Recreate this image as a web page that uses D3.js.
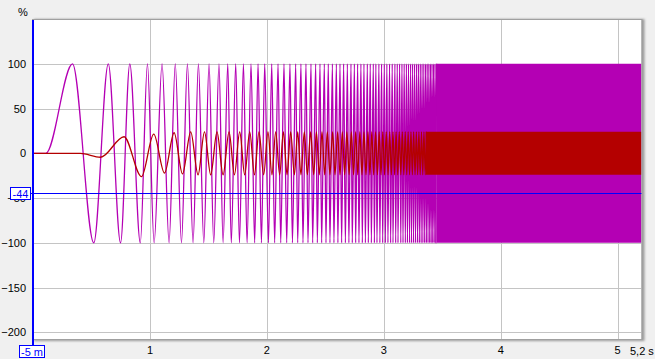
<!DOCTYPE html>
<html>
<head>
<meta charset="utf-8">
<script src="https://cdn.jsdelivr.net/npm/d3@7"></script>
<style>
body{margin:0;background:#f0f0f0;}
svg{display:block;font-family:"Liberation Sans",Arial,sans-serif;font-size:11px;}
</style>
</head>
<body>
<div id="chart"></div>
<script>
// sweep (magenta): times in s of the +100 % peaks and -100 % troughs
var sweepPeaks = [0.333,0.639,0.823,0.974,1.099,1.212,1.316,1.410,1.501,1.586,1.661,1.729,1.795,1.860,1.920,1.977,
    2.037,2.091,2.142,2.193,2.242,2.287,2.330,2.373,2.413,2.450,2.487,2.521,2.556,2.590,2.621,2.652,2.684,2.715,
    2.744,2.772,2.800,2.826,2.855,2.880,2.906,2.928,2.954,2.977,3.000,3.022,3.045,3.068,3.091,3.111,3.131,
    3.151,3.170,3.189,3.207,3.225,3.242,3.259,3.276,3.292,3.308,3.323,3.338,3.353,3.367,3.381,3.395,3.408,
    3.421,3.434,3.447];
var sweepTroughs = [0.515,0.744,0.913,1.031,1.159,1.265,1.364,1.456,1.541,1.621,1.691,1.761,1.826,1.891,1.949,2.009,
    2.062,2.114,2.165,2.214,2.259,2.304,2.347,2.387,2.427,2.464,2.501,2.535,2.569,2.603,2.635,2.667,2.697,2.726,
    2.755,2.783,2.812,2.838,2.863,2.889,2.915,2.937,2.962,2.986,3.009,3.031,3.054,3.074,3.097,3.117,
    3.141,3.160,3.180,3.198,3.216,3.233,3.250,3.267,3.284,3.300,3.315,3.330,3.345,3.360,3.374,3.388,3.401,
    3.414,3.427,3.440];
var sweepStart = 0.105;          // flat at 0 before this
var sweepBand = [3.445, 5.2];    // too dense to resolve: solid band
var sweepLevel = 100;

// response (red): [time, %] of each extremum
var respPeaks = [[0.774,18.5],[1.028,21.5],[1.202,23],[1.344,24],[1.462,24],[1.569,24],[1.672,24],[1.763,24],
    [1.849,24],[1.928,24],[2.005,24],[2.071,24],[2.137,24],[2.199,24],[2.259,24],[2.316,24],[2.370,24],[2.419,24],
    [2.467,24],[2.513,24],[2.558,24],[2.601,24],[2.641,24],[2.680,24],[2.718,24],[2.755,24],[2.791,24],[2.826,24],
    [2.860,24],[2.893,24],[2.925,24],[2.956,24],[2.987,24],[3.017,24],[3.046,24],[3.074,24],[3.101,24],[3.128,24],
    [3.154,24],[3.179,24],[3.204,24],[3.228,24],[3.251,24],[3.274,24],[3.296,24],[3.318,24],[3.339,24],[3.360,24]];
var respTroughs = [[0.573,-4.4],[0.923,-26],[1.120,-22],[1.274,-23],[1.407,-24],[1.515,-24],[1.621,-24],[1.718,-24],
    [1.806,-24],[1.889,-24],[1.968,-24],[2.039,-24],[2.105,-24],[2.168,-24],[2.231,-24],[2.287,-24],[2.342,-24],
    [2.396,-24],[2.444,-24],[2.490,-24],[2.535,-24],[2.578,-24],[2.621,-24],[2.661,-24],[2.699,-24],[2.737,-24],
    [2.773,-24],[2.809,-24],[2.843,-24],[2.877,-24],[2.909,-24],[2.941,-24],[2.972,-24],[3.002,-24],[3.032,-24],
    [3.060,-24],[3.088,-24],[3.115,-24],[3.141,-24],[3.167,-24],[3.192,-24],[3.216,-24],[3.240,-24],[3.263,-24],
    [3.285,-24],[3.307,-24],[3.329,-24],[3.350,-24]];
var respStart = 0.40;
var respBand = [3.355, 5.2];
var respLevel = [-24, 24];

var yTicks = [100, 50, 0, -50, -100, -150, -200];
var xTicks = [1, 2, 3, 4, 5];
var cursorY = -44;

function init(){
    var w = 655, h = 359;
    var x = d3.scaleLinear().domain([-0.005, 5.2]).range([33, 641.5]);
    var y = d3.scaleLinear().domain([-207.5, 149]).range([339, 20]);
    var pl = 33, pr = 641.5, pt = 20, pb = 339;

    var svg = d3.select("#chart").append("svg")
        .attr("width", w).attr("height", h);

    var defs = svg.append("defs");
    defs.append("filter").attr("id","sh").append("feGaussianBlur").attr("stdDeviation",1.2);
    defs.append("clipPath").attr("id","clip").append("rect")
        .attr("x", pl).attr("y", pt).attr("width", pr - pl).attr("height", pb - pt);

    // frame + shadow
    svg.append("rect").attr("x", pl + 1).attr("y", pt - 1).attr("width", pr - pl + 2).attr("height", pb - pt + 3)
        .attr("fill", "#9a9a9a").attr("filter", "url(#sh)");
    svg.append("rect").attr("x", pl).attr("y", pt).attr("width", pr - pl).attr("height", pb - pt)
        .attr("fill", "#fff");

    // grid
    var grid = svg.append("g");
    grid.selectAll(".gy").data(yTicks).enter().append("line")
        .attr("x1", pl).attr("x2", pr).attr("y1", d => Math.round(y(d)) + 0.5).attr("y2", d => Math.round(y(d)) + 0.5)
        .attr("stroke", "#c4c4c4");
    grid.selectAll(".gx").data(xTicks).enter().append("line")
        .attr("y1", pt).attr("y2", pb).attr("x1", d => Math.round(x(d)) + 0.5).attr("x2", d => Math.round(x(d)) + 0.5)
        .attr("stroke", "#c4c4c4");

    var plot = svg.append("g").attr("clip-path", "url(#clip)");

    // sweep line
    var sweepPts = [[-0.005, 0], [sweepStart, 0]]
        .concat(sweepPeaks.map(t => [t, sweepLevel]))
        .concat(sweepTroughs.map(t => [t, -sweepLevel]));
    sweepPts.sort((a, b) => a[0] - b[0]);
    var line = d3.line().x(d => x(d[0])).y(d => y(d[1])).curve(d3.curveMonotoneX);
    plot.append("path").attr("d", line(sweepPts))
        .attr("fill", "none").attr("stroke", "#b400b4").attr("stroke-width", 1.3);
    var band = d3.area().x(d => x(d)).y0(y(-sweepLevel)).y1(y(sweepLevel));
    plot.append("path").attr("d", band(sweepBand)).attr("fill", "#b400b4");

    // response line
    var respPts = [[-0.005, 0], [respStart, 0]].concat(respPeaks).concat(respTroughs);
    respPts.sort((a, b) => a[0] - b[0]);
    plot.append("path").attr("d", line(respPts))
        .attr("fill", "none").attr("stroke", "#b40000").attr("stroke-width", 1.3);
    var rband = d3.area().x(d => x(d)).y0(y(respLevel[0])).y1(y(respLevel[1]));
    plot.append("path").attr("d", rband(respBand)).attr("fill", "#b40000");

    // frame border
    svg.append("rect").attr("x", pl - 0.5).attr("y", pt - 0.5).attr("width", pr - pl + 1).attr("height", pb - pt + 1)
        .attr("fill", "none").attr("stroke", "#a0a0a0");

    // axes labels
    var yAxis = d3.axisLeft(y).tickValues(yTicks).tickSize(0).tickPadding(7);
    var ya = svg.append("g").attr("transform", "translate(" + pl + ",0)").call(yAxis);
    ya.select(".domain").remove();
    ya.selectAll("text").attr("fill", "#000").style("font-size", "11px").style("font-family", "Liberation Sans");

    var xAxis = d3.axisBottom(x).tickValues(xTicks).tickFormat(d3.format("d")).tickSize(0).tickPadding(7);
    var xa = svg.append("g").attr("transform", "translate(-1," + pb + ")").call(xAxis);
    xa.select(".domain").remove();
    xa.selectAll("text").attr("fill", "#000").style("font-size", "11px").style("font-family", "Liberation Sans");

    svg.append("text").attr("x", 630).attr("y", 355).text("5,2 s");
    svg.append("text").attr("x", 18).attr("y", 16).text("%");

    // cursor
    var cy = Math.round(y(cursorY)) + 0.5;
    svg.append("line").attr("x1", 30).attr("x2", pr).attr("y1", cy).attr("y2", cy)
        .attr("stroke", "#0000ff").attr("stroke-width", 1);
    svg.append("line").attr("x1", 33).attr("x2", 33).attr("y1", pt).attr("y2", 345)
        .attr("stroke", "#0000ff").attr("stroke-width", 2);

    svg.append("rect").attr("x", 10.5).attr("y", cy - 6).attr("width", 20).attr("height", 12)
        .attr("fill", "#fff").attr("stroke", "#0000ff");
    svg.append("text").attr("x", 20.5).attr("y", cy + 4).attr("text-anchor", "middle")
        .attr("fill", "#0000ff").text(cursorY);

    svg.append("rect").attr("x", 19.5).attr("y", 345.5).attr("width", 25).attr("height", 12)
        .attr("fill", "#fff").attr("stroke", "#0000ff");
    svg.append("text").attr("x", 32).attr("y", 355.5).attr("text-anchor", "middle")
        .attr("fill", "#0000ff").text("-5 m");
}
window.onload = init;
</script>
</body>
</html>
